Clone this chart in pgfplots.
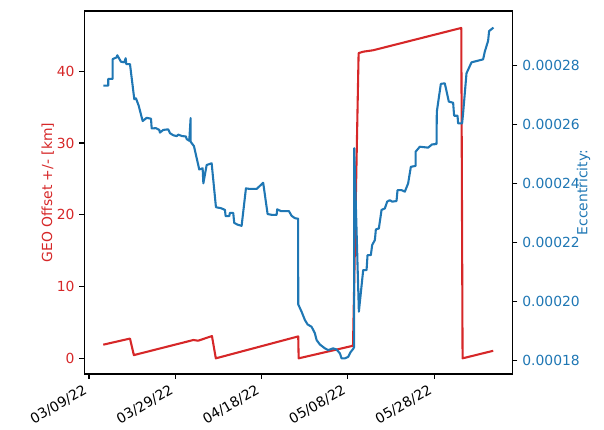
\documentclass[border=0pt]{standalone}
\usepackage{fontspec}
\setmainfont{DejaVu Sans}
\usepackage{pgfplots}
\pgfplotsset{compat=1.18}
\definecolor{tabred}{HTML}{D62728}
\definecolor{tabblue}{HTML}{1F77B4}
\begin{document}
\fontsize{10}{12}\selectfont
\begin{tikzpicture}
\pgfplotsset{
  every axis/.append style={
    scale only axis, width=308.4pt, height=261.4pt,
    at={(0,0)}, anchor=south west,
    xmin=-1.09, xmax=98.2,
    axis line style={line width=0.8pt},
    every tick/.style={line width=0.8pt, black},
    major tick length=3.5pt,
    tick align=outside,
    /pgf/number format/assume math mode=true,
    tick label style={font=\fontsize{10}{12}\selectfont},
    label style={font=\fontsize{10}{12}\selectfont},
  }}
\begin{axis}[
  ymin=-2.13, ymax=48.36,
  xtick pos=left, ytick pos=left,
  xtick={0,20,40,60,80},
  xticklabels={03/09/22,03/29/22,04/18/22,05/08/22,05/28/22},
  xticklabel style={xshift=-4.5pt, yshift=-3.5pt, rotate=30, anchor=north east, inner sep=0pt},
  ytick={0,10,20,30,40},
  yticklabel style={color=tabred},
  ylabel={GEO Offset +/- [km]},
  ylabel style={color=tabred, at={(axis description cs:0,0.5)}, anchor=center, yshift=26.3pt},
]
\addplot[tabred, line width=1.5pt, line join=round] coordinates {
(3.31,1.95) (9.5,2.8) (10.4,0.5) (24.2,2.6) (25.3,2.5) (28.5,3.15) (29.4,0.05)
(48.5,3.1) (48.6,0.05) (61.2,1.8) (62.5,42.5) (63.6,42.7) (65.9,42.9)
(86.3,46.0) (86.6,0.05) (93.7,1.1)
};
\end{axis}
\begin{axis}[
  ymin=0.0001754, ymax=0.0002984,
  xtick=\empty,
  ytick pos=right, yticklabel pos=right,
  ytick={0.00018,0.00020,0.00022,0.00024,0.00026,0.00028},
  yticklabels={0.00018,0.00020,0.00022,0.00024,0.00026,0.00028},
  yticklabel style={color=tabblue},
  ylabel={Eccentricity:},
  ylabel style={color=tabblue, at={(axis description cs:1,0.5)}, anchor=center, yshift=-51pt},
]
\addplot[tabblue, line width=1.5pt, line join=round] coordinates {
(3.31,0.0002731) (4.47,0.0002731) (4.47,0.0002754) (5.49,0.0002754) (5.49,0.0002821)
(6.42,0.0002827) (6.56,0.0002834) (7.41,0.0002812) (8.18,0.0002810) (8.50,0.0002824)
(8.64,0.0002804) (9.50,0.0002804) (10.50,0.0002685) (10.89,0.0002688) (11.52,0.0002663)
(12.44,0.0002611) (13.37,0.0002622) (14.37,0.0002619) (14.53,0.0002586) (15.52,0.0002587)
(16.29,0.0002581) (16.45,0.0002572) (17.22,0.0002581) (18.37,0.0002583) (18.77,0.0002570)
(19.53,0.0002563) (20.32,0.0002560) (20.69,0.0002565) (21.62,0.0002560) (22.47,0.0002559)
(22.64,0.0002550) (23.24,0.0002544) (23.56,0.0002621) (23.56,0.0002541) (24.33,0.0002526)
(25.56,0.0002447) (26.34,0.0002451) (26.51,0.0002400) (27.27,0.0002462) (28.43,0.0002468)
(29.43,0.0002319) (30.58,0.0002316) (31.51,0.0002310) (31.67,0.0002289) (32.51,0.0002289)
(32.67,0.0002300) (33.43,0.0002300) (33.67,0.0002266) (34.45,0.0002260) (35.38,0.0002256)
(36.38,0.0002383) (37.30,0.0002381) (38.86,0.0002381) (40.38,0.0002402) (41.40,0.0002296)
(42.47,0.0002293) (43.49,0.0002293) (43.63,0.0002312) (44.49,0.0002306) (46.34,0.0002306)
(46.97,0.0002290) (47.73,0.0002282) (48.49,0.0002280) (48.50,0.0001990) (49.28,0.0001965)
(50.05,0.0001937) (50.67,0.0001922) (51.60,0.0001914) (52.36,0.0001892) (52.76,0.0001869)
(53.52,0.0001854) (54.68,0.0001841) (55.45,0.0001835) (56.60,0.0001841) (57.39,0.0001837)
(58.16,0.0001824) (58.55,0.0001807) (59.31,0.0001807) (60.08,0.0001812) (60.63,0.0001828)
(61.24,0.0001839) (61.47,0.0001846) (61.48,0.0002519) (62.56,0.0001965) (63.56,0.0002106)
(64.34,0.0002106) (64.57,0.0002157) (65.34,0.0002157) (65.64,0.0002191) (66.27,0.0002208)
(66.50,0.0002244) (67.19,0.0002247) (67.82,0.0002310) (68.58,0.0002315) (69.12,0.0002338)
(69.74,0.0002343) (70.27,0.0002338) (71.29,0.0002340) (71.52,0.0002377) (72.45,0.0002377)
(73.22,0.0002372) (73.98,0.0002400) (74.61,0.0002456) (75.70,0.0002459) (75.70,0.0002507)
(76.69,0.0002524) (78.61,0.0002521) (79.54,0.0002532) (80.56,0.0002533) (80.63,0.0002643)
(81.56,0.0002737) (82.48,0.0002739) (83.41,0.0002677) (84.41,0.0002673) (84.64,0.0002629)
(85.43,0.0002629) (85.57,0.0002603) (86.49,0.0002603) (86.72,0.0002637) (87.51,0.0002773)
(88.67,0.0002810) (91.36,0.0002820) (91.75,0.0002846) (92.52,0.0002883) (92.75,0.0002916)
(93.54,0.0002925) (93.72,0.0002928)
};
\end{axis}
\pgfresetboundingbox
\useasboundingbox (-60.7pt,-39.6pt) rectangle (374.2pt,269.3pt);
\end{tikzpicture}
\end{document}
